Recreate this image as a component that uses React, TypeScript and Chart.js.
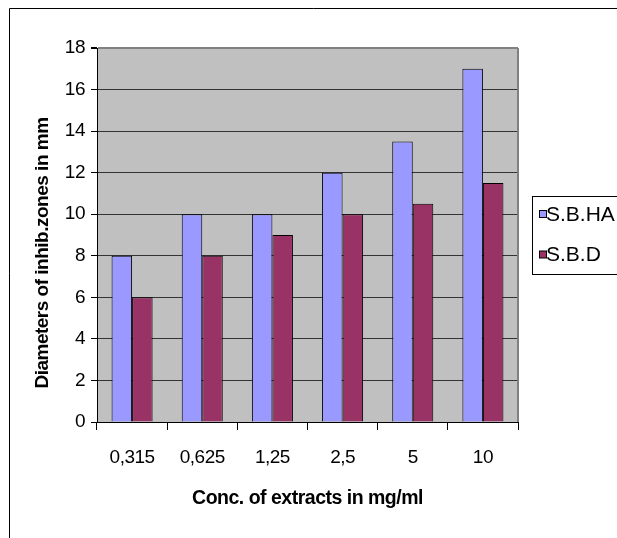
import React, { useEffect, useRef } from "react";
import { Chart, registerables } from "chart.js";

Chart.register(...registerables);

const categories = ["0,315", "0,625", "1,25", "2,5", "5", "10"];
const seriesNames = ["S.B.HA", "S.B.D"];
const sbhaValues = [8, 10, 10, 12, 13.5, 17];
const sbdValues = [6, 8, 9, 10, 10.5, 11.5];
const yTitle = "Diameters of inhib.zones in mm";
const xTitle = "Conc. of extracts in mg/ml";

const FONT = "'Liberation Sans', Arial, sans-serif";

const framePlugin = {
  id: "framePlugin",
  beforeDraw(chart: any) {
    const { ctx, chartArea } = chart;
    (ctx as any).letterSpacing = "-0.5px";
    ctx.save();
    ctx.fillStyle = "#ffffff";
    ctx.fillRect(0, 0, chart.width, chart.height);
    ctx.fillStyle = "#C0C0C0";
    ctx.fillRect(chartArea.left, chartArea.top, chartArea.right - chartArea.left, chartArea.bottom - chartArea.top);
    ctx.restore();
  },
  afterDraw(chart: any) {
    const { ctx, chartArea } = chart;
    ctx.save();
    // outer frame
    ctx.strokeStyle = "#000";
    ctx.lineWidth = 1;
    ctx.beginPath();
    ctx.moveTo(9.5, chart.height + 2);
    ctx.lineTo(9.5, 8.5);
    ctx.lineTo(chart.width + 2, 8.5);
    ctx.stroke();
    // plot right border
    ctx.strokeStyle = "#808080";
    ctx.lineWidth = 2;
    ctx.beginPath();
    ctx.moveTo(chartArea.right, chartArea.top);
    ctx.lineTo(chartArea.right, chartArea.bottom);
    ctx.stroke();
    // y title
    ctx.fillStyle = "#000";
    ctx.font = `bold 19px ${FONT}`;
    (ctx as any).letterSpacing = "-0.5px";
    ctx.textAlign = "center";
    ctx.textBaseline = "middle";
    ctx.translate(42.5, 253);
    ctx.rotate(-Math.PI / 2);
    ctx.fillText(yTitle, 0, 0);
    ctx.restore();

    // legend
    ctx.save();
    (ctx as any).letterSpacing = "0px";
    ctx.strokeStyle = "#000";
    ctx.lineWidth = 1;
    ctx.strokeRect(532.5, 196.5, 120, 78);
    const ys = [214, 254.5];
    chart.data.datasets.forEach((ds: any, i: number) => {
      const y = ys[i];
      ctx.fillStyle = ds.backgroundColor;
      ctx.fillRect(539.5, y - 3.5, 7, 7);
      ctx.strokeStyle = "#000";
      ctx.strokeRect(539.5, y - 3.5, 7, 7);
      ctx.fillStyle = "#000";
      ctx.font = `21px ${FONT}`;
      ctx.textAlign = "left";
      ctx.textBaseline = "middle";
      ctx.fillText(ds.label, 546, y + 1);
    });
    ctx.restore();
  },
};

export default function App() {
  const ref = useRef<HTMLCanvasElement>(null);
  useEffect(() => {
    if (!ref.current) return;
    const chart = new Chart(ref.current, {
      type: "bar",
      data: {
        labels: categories,
        datasets: [
          {
            label: seriesNames[0],
            data: sbhaValues,
            backgroundColor: "#9999FF",
            borderColor: "#000",
            borderWidth: 1,
            categoryPercentage: 0.585,
            barPercentage: 1,
          },
          {
            label: seriesNames[1],
            data: sbdValues,
            backgroundColor: "#993366",
            borderColor: "#000",
            borderWidth: 1,
            categoryPercentage: 0.585,
            barPercentage: 1,
          },
        ],
      },
      options: {
        responsive: false,
        animation: false,
        layout: { padding: { top: 48, left: 0, right: 99, bottom: 0 } },
        plugins: {
          legend: { display: false },
          tooltip: { enabled: false },
        },
        scales: {
          x: {
            afterFit(scale: any) {
              scale.height = 116;
            },
            grid: {
              drawOnChartArea: false,
              drawTicks: true,
              tickLength: 8,
              tickColor: "#000",
              offset: true,
            },
            border: { display: true, color: "#000", width: 1 },
            ticks: {
              color: "#000",
              padding: 16,
              font: { family: FONT, size: 19 },
              maxRotation: 0,
              autoSkip: false,
            },
            title: {
              display: true,
              text: xTitle,
              color: "#000",
              font: { family: FONT, size: 19.5, weight: "bold" },
              padding: { top: 0, bottom: 28 },
            },
          },
          y: {
            min: 0,
            max: 18,
            afterFit(scale: any) {
              scale.width = 97;
            },
            grid: {
              color: (c: any) => (c.tick && c.tick.value === 18 ? "#808080" : "#333333"),
              lineWidth: (c: any) => (c.tick && c.tick.value === 18 ? 2 : 1),
              tickColor: "#000",
              tickLength: 6,
            },
            border: { display: true, color: "#000", width: 1 },
            ticks: {
              stepSize: 2,
              color: "#000",
              padding: 6,
              font: { family: FONT, size: 19 },
            },
          },
        },
      },
      plugins: [framePlugin],
    });
    return () => chart.destroy();
  }, []);
  return (
    <div style={{ position: "absolute", left: 0, top: 0, width: 617, height: 538, background: "#fff" }}>
      <canvas ref={ref} width={617} height={538} style={{ display: "block" }} />
    </div>
  );
}
